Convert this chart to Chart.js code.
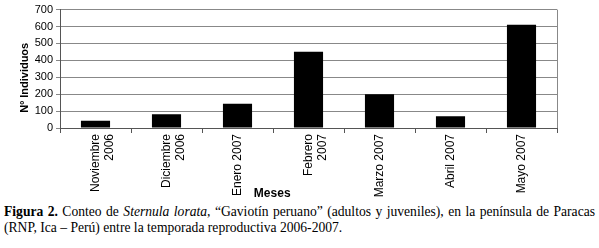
<!DOCTYPE html>
<html>
<head>
<meta charset="utf-8">
<script src="https://cdn.jsdelivr.net/npm/chart.js@4.4.1/dist/chart.umd.min.js"></script>
<style>
  html, body { margin: 0; padding: 0; background: #fff; }
  #wrap { position: relative; width: 599px; height: 248px; overflow: hidden; }
  #chart { position: absolute; left: 0; top: 0; }
  #caption {
    position: absolute; left: 4px; top: 204px; width: 591px;
    font-family: "Liberation Serif", "Times New Roman", serif;
    font-size: 13.6px; line-height: 16px; color: #000;
    text-align: justify;
  }
</style>
</head>
<body>
<div id="wrap">
  <canvas id="chart" width="599" height="200"></canvas>
  <div id="caption"><b>Figura 2.</b> Conteo de <i>Sternula lorata</i>, “Gaviotín peruano” (adultos y juveniles), en la península de Paracas (RNP, Ica – Perú) entre la temporada reproductiva 2006-2007.</div>
</div>
<script>
(function () {
    'use strict';

    /* ---- Daten ---- */
    var meses = [
        ['Noviembre', '2006'],
        ['Diciembre', '2006'],
        'Enero 2007',
        ['Febrero', '2007'],
        'Marzo 2007',
        'Abril 2007',
        'Mayo 2007'
    ];
    var individuos = [43, 82, 143, 451, 200, 69, 610];
    var yMax = 700;
    var yStep = 100;

    var FONT = '"Liberation Sans", Arial, sans-serif';

    /* ---- Achsentitel und Rahmen rechts ---- */
    var extras = {
        id: 'extras',
        afterDraw: function (chart) {
            var ctx = chart.ctx;
            var a = chart.chartArea;
            ctx.save();
            ctx.strokeStyle = '#888';
            ctx.lineWidth = 1;
            ctx.beginPath();
            ctx.moveTo(Math.round(a.right) + 0.5, a.top);
            ctx.lineTo(Math.round(a.right) + 0.5, a.bottom);
            ctx.stroke();

            ctx.fillStyle = '#000';
            ctx.font = 'bold 11px ' + FONT;
            ctx.textAlign = 'center';
            ctx.textBaseline = 'middle';
            ctx.translate(a.left - 35, (a.top + a.bottom) / 2 + 9);
            ctx.rotate(-Math.PI / 2);
            ctx.fillText('Nº Individuos', 0, 0);
            ctx.restore();

            ctx.save();
            ctx.fillStyle = '#000';
            ctx.font = 'bold 12px ' + FONT;
            ctx.textAlign = 'center';
            ctx.textBaseline = 'middle';
            ctx.fillText('Meses', a.left + (a.right - a.left) * 0.427, chart.height - 6);
            ctx.restore();
        }
    };

    new Chart(document.getElementById('chart'), {
        type: 'bar',
        data: {
            labels: meses,
            datasets: [{
                data: individuos,
                backgroundColor: '#000',
                borderWidth: 0,
                barPercentage: 0.41,
                categoryPercentage: 1
            }]
        },
        options: {
            responsive: false,
            animation: false,
            layout: { padding: { top: 3, right: 42, left: 0, bottom: 0 } },
            plugins: {
                legend: { display: false },
                tooltip: { enabled: false }
            },
            scales: {
                x: {
                    afterFit: function (s) { s.height = 72; },
                    grid: {
                        offset: true,
                        drawOnChartArea: false,
                        drawTicks: true,
                        tickLength: 5,
                        color: '#555'
                    },
                    border: { color: '#555' },
                    ticks: {
                        autoSkip: false,
                        minRotation: 90,
                        maxRotation: 90,
                        padding: 1,
                        color: '#000',
                        font: { family: FONT, size: 12 }
                    }
                },
                y: {
                    min: 0,
                    max: yMax,
                    afterFit: function (s) { s.width = 60; },
                    grid: {
                        color: '#888',
                        tickLength: 4,
                        drawTicks: true
                    },
                    border: { color: '#555' },
                    ticks: {
                        stepSize: yStep,
                        padding: 3,
                        color: '#000',
                        font: { family: FONT, size: 11 }
                    }
                }
            }
        },
        plugins: [extras]
    });
})();
</script>
</body>
</html>
